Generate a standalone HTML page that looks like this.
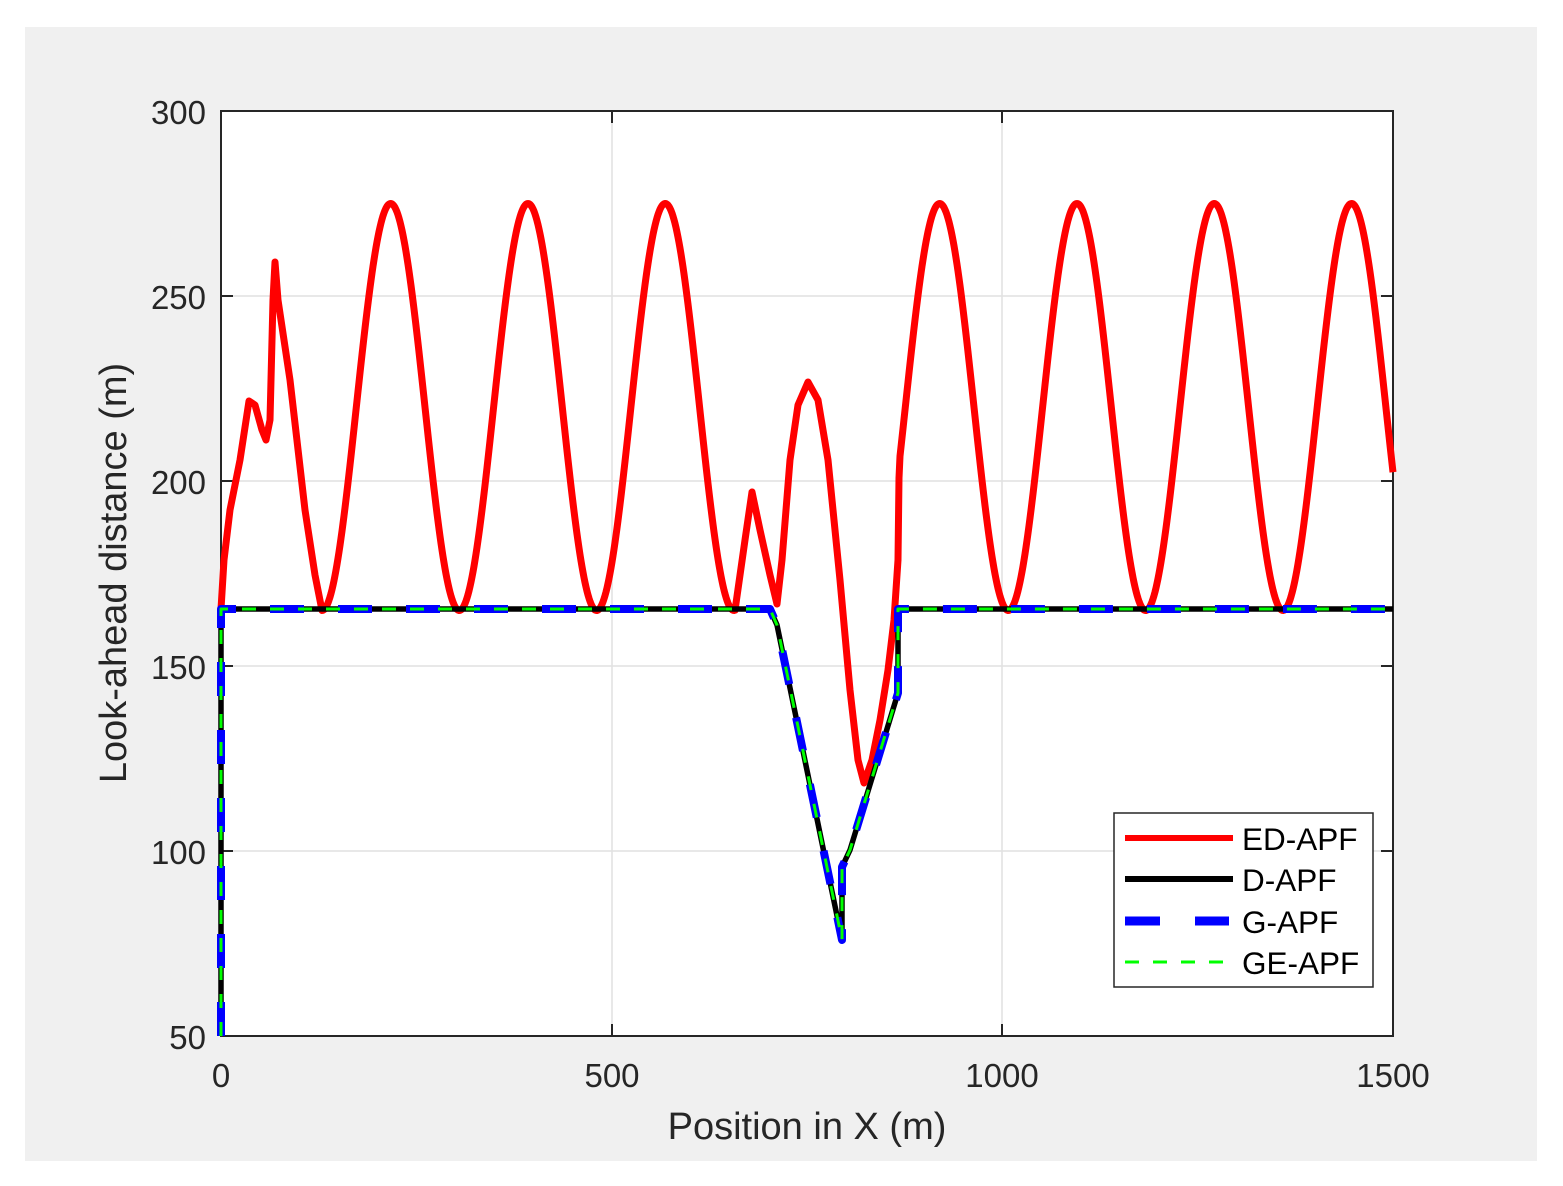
<!DOCTYPE html>
<html><head><meta charset="utf-8"><style>
html,body{margin:0;padding:0;background:#fff}
svg{display:block}
text{font-family:"Liberation Sans",Arial,sans-serif;fill:#262626}
</style></head><body>
<svg width="1563" height="1186" viewBox="0 0 1563 1186" xmlns="http://www.w3.org/2000/svg">
<rect x="0" y="0" width="1563" height="1186" fill="#fff"/>
<rect x="25" y="27" width="1512" height="1134" fill="#f0f0f0"/>
<rect x="221" y="111" width="1172" height="925" fill="#fff"/>
<g stroke="#e1e1e1" stroke-width="1.5">
<line x1="612" y1="111" x2="612" y2="1036"/><line x1="1002" y1="111" x2="1002" y2="1036"/>
<line x1="221" y1="296" x2="1393" y2="296"/><line x1="221" y1="481" x2="1393" y2="481"/>
<line x1="221" y1="666" x2="1393" y2="666"/><line x1="221" y1="851" x2="1393" y2="851"/>
</g>
<g stroke="#262626" stroke-width="2" fill="none">
<rect x="221" y="111" width="1172" height="925"/>
<path d="M612 1036v-12M1002 1036v-12M612 111v12M1002 111v12M221 296h12M221 481h12M221 666h12M221 851h12M1393 296h-12M1393 481h-12M1393 666h-12M1393 851h-12"/>
</g>
<g font-size="33" text-anchor="end">
<text x="206" y="124">300</text><text x="206" y="309">250</text><text x="206" y="494">200</text>
<text x="206" y="679">150</text><text x="206" y="864">100</text><text x="206" y="1049">50</text>
</g>
<g font-size="33" text-anchor="middle">
<text x="221" y="1087">0</text><text x="612" y="1087">500</text><text x="1002" y="1087">1000</text><text x="1393" y="1087">1500</text>
</g>
<text x="807" y="1139" font-size="38" text-anchor="middle">Position in X (m)</text>
<text transform="translate(126,573) rotate(-90)" font-size="38" text-anchor="middle">Look-ahead distance (m)</text>
<clipPath id="c"><rect x="216" y="106" width="1182" height="935"/></clipPath>
<g clip-path="url(#c)" fill="none" stroke-linejoin="round">
<path id="red" stroke="#ff0000" stroke-width="7" d=""/>
<path stroke="#000" stroke-width="5.5" d="M221 1036L221 609L770 609L777 625L842 940L842 867L850 850L898 693L898 609L1393 609"/>
<path stroke="#0000ff" stroke-width="8" stroke-dasharray="34 34" d="M221 1036L221 609L770 609L777 625L842 940L842 867L850 850L898 693L898 609L1393 609"/>
<path stroke="#00ff00" stroke-width="3" stroke-dasharray="14 14" d="M221 1036L221 609L770 609L777 625L842 940L842 867L850 850L898 693L898 609L1393 609"/>
</g>
<rect x="1114" y="813" width="259" height="174" fill="#fff" stroke="#262626" stroke-width="1.5"/>
<line x1="1125" y1="838" x2="1233" y2="838" stroke="#f00" stroke-width="6"/>
<line x1="1125" y1="879" x2="1233" y2="879" stroke="#000" stroke-width="6"/>
<line x1="1125" y1="921" x2="1229" y2="921" stroke="#00f" stroke-width="9" stroke-dasharray="35 35"/>
<line x1="1125" y1="962" x2="1225" y2="962" stroke="#0f0" stroke-width="3" stroke-dasharray="14 14"/>
<g font-size="31.5">
<text x="1242" y="850" style="fill:#000">ED-APF</text><text x="1242" y="891" style="fill:#000">D-APF</text>
<text x="1242" y="933" style="fill:#000">G-APF</text><text x="1242" y="974" style="fill:#000">GE-APF</text>
</g>
</svg>
<script>
(function(){
var pts=[[221,609],[224,560],[230,510],[240,460],[249,401],[255,405],[262,430],[266,440],[270,420],[273,300],[275,262],[278,300],[290,380],[305,510],[315,575]];
var P=137.3;
function f(x,t0){var u=(x-t0)/P;return 610.5-407*(1-Math.cos(2*Math.PI*u))/2;}
for(var x=322;x<=735;x+=1)pts.push([x,f(x,322)]);
pts.push([745,540],[752,492],[760,530],[770,575],[777,604],[782,560],[790,460],[798,405],[808,382],[818,400],[828,460],[840,580],[850,690],[858,760],[864,783],[872,760],[880,720],[888,670],[894,620],[898,560],[899,478]);
for(var x=900;x<=1393;x+=1)pts.push([x,f(x,871)]);
var d="M"+pts.map(function(p){return p[0].toFixed(1)+" "+p[1].toFixed(1)}).join("L");
document.getElementById("red").setAttribute("d",d);
})();
</script>
</body></html>
